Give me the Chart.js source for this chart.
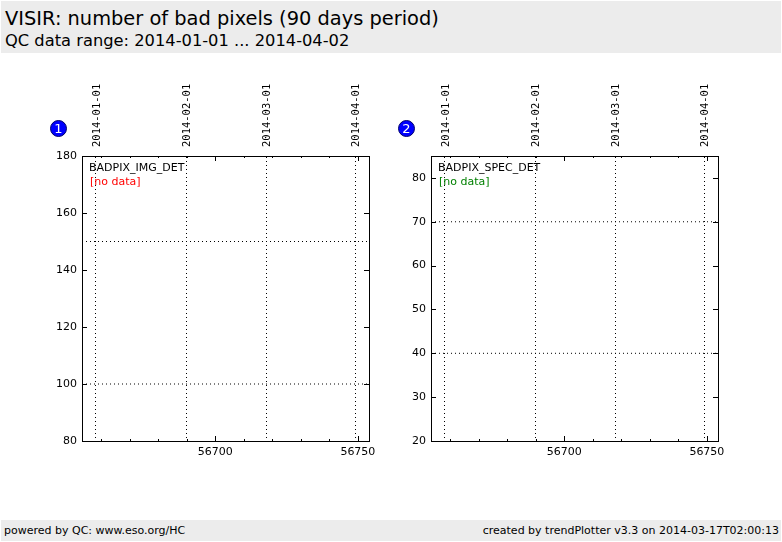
<!DOCTYPE html>
<html>
<head>
<meta charset="utf-8">
<script src="https://cdn.jsdelivr.net/npm/chart.js@4.4.1/dist/chart.umd.min.js"></script>
<style>
  html, body { margin:0; padding:0; background:#fff; width:782px; height:542px; overflow:hidden; font-family:"DejaVu Sans", sans-serif; }
  .bar { position:absolute; left:1px; width:780px; background:#ececec; }
  #head { top:1px; height:52px; }
  #foot { top:520px; height:21px; }
  .t1 { position:absolute; left:4px; top:6px; font-size:19.4px; color:#000; white-space:nowrap; }
  .t2 { position:absolute; left:4px; top:30px; font-size:16.3px; color:#000; white-space:nowrap; }
  .f { position:absolute; top:4px; font-size:11px; color:#000; white-space:nowrap; }
  canvas { position:absolute; }
  .num { position:absolute; width:15px; height:15px; border-radius:50%; background:#0000ff; border:1px solid #00006a; color:#fff; font-size:13px; line-height:15px; text-align:center; }
  .lab { position:absolute; font-size:11px; white-space:nowrap; }
</style>
</head>
<body>
<div class="bar" id="head">
  <div class="t1">VISIR: number of bad pixels (90 days period)</div>
  <div class="t2">QC data range: 2014-01-01 ... 2014-04-02</div>
</div>
<div class="bar" id="foot">
  <div class="f" style="left:3px">powered by QC: www.eso.org/HC</div>
  <div class="f" style="right:2px">created by trendPlotter v3.3 on 2014-03-17T02:00:13</div>
</div>

<canvas id="c1" width="390" height="400" style="left:0px;top:60px"></canvas>
<canvas id="c2" width="390" height="400" style="left:349px;top:60px"></canvas>

<div class="num" style="left:50px;top:120px">1</div>
<div class="num" style="left:398px;top:120px">2</div>
<div class="lab" style="left:89px;top:161px;color:#000">BADPIX_IMG_DET</div>
<div class="lab" style="left:90px;top:175px;color:#ff0000">[no data]</div>
<div class="lab" style="left:438px;top:161px;color:#000">BADPIX_SPEC_DET</div>
<div class="lab" style="left:439px;top:175px;color:#008000">[no data]</div>

<script>
// ---- data ----
const panelNames = ['BADPIX_IMG_DET', 'BADPIX_SPEC_DET'];
const dateLabels = ['2014-01-01', '2014-02-01', '2014-03-01', '2014-04-01'];
const dateMjd = [56658.2, 56689.8, 56717.9, 56749.1];
const xTicks = [56660, 56670, 56680, 56690, 56700, 56710, 56720, 56730, 56740, 56750];
const xMin = 56653.3, xMax = 56753.9;
const imgValues = [];           // no data
const specValues = [];          // no data
const imgThresholds = [100, 150];
const specThresholds = [40, 70];
const imgYTicks = [80, 100, 120, 140, 160, 180];
const specYTicks = [20, 30, 40, 50, 60, 70, 80];
const imgYRange = [80, 180];
const specYRange = [20, 85];

const tickFont = { family: 'DejaVu Sans', size: 11 };
const monoFont = { family: 'DejaVu Sans Mono', size: 10.5 };

const inwardTicks = {
  id: 'inwardTicks',
  afterDraw(chart) {
    const { ctx, chartArea: a, scales } = chart;
    ctx.save();
    ctx.strokeStyle = '#000';
    ctx.lineWidth = 1;
    ctx.beginPath();
    xTicks.forEach(v => {
      const px = Math.round(scales.x.getPixelForValue(v)) + 0.5;
      const len = v % 50 === 0 ? 5 : 2;
      ctx.moveTo(px, a.bottom); ctx.lineTo(px, a.bottom - len);
      ctx.moveTo(px, a.top); ctx.lineTo(px, a.top + len);
    });
    scales.y.ticks.forEach(t => {
      const py = Math.round(scales.y.getPixelForValue(t.value)) + 0.5;
      ctx.moveTo(a.left, py); ctx.lineTo(a.left + 5, py);
      ctx.moveTo(a.right, py); ctx.lineTo(a.right - 5, py);
    });
    ctx.stroke();
    ctx.restore();
  }
};

function makeChart(id, values, thresholds, yTicks, yRange) {
  const thrSets = thresholds.map(t => ({
    type: 'line',
    data: [{ x: xMin, y: t }, { x: xMax, y: t }],
    borderColor: '#000', borderWidth: 1, borderDash: [1, 3],
    pointRadius: 0, fill: false, xAxisID: 'x', yAxisID: 'y'
  }));
  return new Chart(document.getElementById(id), {
    type: 'line',
    data: {
      datasets: [{
        data: values.slice(), borderColor: '#000', pointRadius: 2, showLine: false,
        xAxisID: 'x', yAxisID: 'y'
      }].concat(thrSets)
    },
    options: {
      responsive: false, animation: false,
      layout: { padding: 0 },
      plugins: { legend: { display: false }, tooltip: { enabled: false } },
      scales: {
        x: {
          type: 'linear', position: 'bottom', min: xMin, max: xMax,
          afterBuildTicks: s => { s.ticks = xTicks.map(v => ({ value: v })); },
          afterFit: s => { s.height = 19; s.paddingLeft = 0; s.paddingRight = 0; },
          ticks: { font: tickFont, color: '#000', padding: 5, maxRotation: 0, autoSkip: false,
                   callback: v => (v % 50 === 0 ? String(v) : '') },
          grid: { display: false, drawTicks: false },
          border: { display: true, color: '#000', width: 1 }
        },
        x2: {
          type: 'linear', position: 'top', min: xMin, max: xMax,
          afterBuildTicks: s => { s.ticks = dateMjd.map(v => ({ value: v })); },
          afterFit: s => { s.height = 96; s.paddingLeft = 0; s.paddingRight = 0; },
          ticks: { font: monoFont, color: '#000', padding: 9, minRotation: 90, maxRotation: 90, autoSkip: false,
                   labelOffset: 14, callback: (v, i) => dateLabels[i] },
          grid: { display: true, drawOnChartArea: true, drawTicks: false, color: '#000', lineWidth: 1 },
          border: { display: true, color: '#000', width: 1, dash: [1, 3] }
        },
        y: {
          type: 'linear', position: 'left', min: yRange[0], max: yRange[1],
          afterBuildTicks: s => { s.ticks = yTicks.map(v => ({ value: v })); },
          afterFit: s => { s.width = 82; s.paddingTop = 0; s.paddingBottom = 0; },
          ticks: { font: tickFont, color: '#000', padding: 5 },
          grid: { display: false, drawTicks: false },
          border: { display: true, color: '#000', width: 1 }
        },
        y2: {
          type: 'linear', position: 'right', min: yRange[0], max: yRange[1],
          afterFit: s => { s.width = 21; },
          ticks: { display: false },
          grid: { display: false, drawTicks: false },
          border: { display: true, color: '#000', width: 1 }
        }
      }
    },
    plugins: [inwardTicks]
  });
}

makeChart('c1', imgValues, imgThresholds, imgYTicks, imgYRange);
makeChart('c2', specValues, specThresholds, specYTicks, specYRange);
</script>
</body>
</html>
